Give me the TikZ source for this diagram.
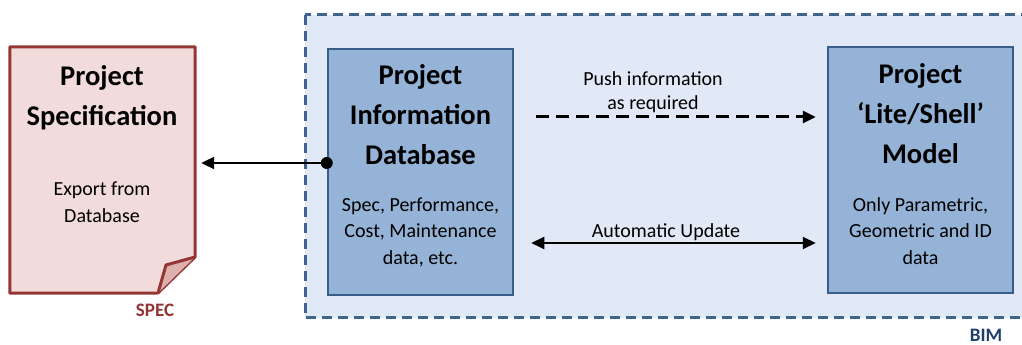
\documentclass[tikz,border=0pt]{standalone}
\usepackage{fontspec}
\setmainfont{Carlito}
\usetikzlibrary{arrows.meta,positioning}

\definecolor{specred}{HTML}{943634}
\definecolor{specfill}{HTML}{F2DCDB}
\definecolor{specfold}{HTML}{DDAFAD}
\definecolor{bimline}{HTML}{41648F}
\definecolor{bimfill}{HTML}{E0E9F5}
\definecolor{bimtext}{HTML}{1F3F6A}
\definecolor{boxfill}{HTML}{95B3D7}
\definecolor{boxline}{HTML}{385D8A}

\begin{document}
\begin{tikzpicture}[
        x=1pt, y=1pt,
        box/.style={draw=boxline, fill=boxfill, line width=2.5pt,
            minimum width=185pt, minimum height=246pt, inner sep=0pt},
        title/.style={font=\fontsize{28.5}{40}\selectfont\bfseries, align=center},
        body/.style={font=\fontsize{20}{26.5}\selectfont, align=center},
        link/.style={line width=2pt, >={Triangle[length=13pt,width=12pt]}, ->}
    ]
    \useasboundingbox (0,0) rectangle (1022,345);
    \clip (0,0) rectangle (1022,345);

    % BIM
    \draw[bimline, fill=bimfill, line width=3pt, dash pattern=on 10pt off 6pt]
        (305,330) rectangle (1045,27);
    \node[font=\fontsize{19}{23}\selectfont\bfseries, text=bimtext] (bim) at (986,10) {BIM};

    % Spezifikation
    \node[minimum width=185pt, minimum height=246pt] (spec) at (102.5,175) {};
    \coordinate (fold1) at (158,52);
    \coordinate (fold2) at (195,88);
    \coordinate (fold3) at (166,80);
    \draw[specred, fill=specfill, line width=3pt, line join=round]
        (spec.north west) -- (spec.north east) -- (fold2) -- (fold1)
        -- (spec.south west) -- cycle;
    \draw[specred, fill=specfold, line width=3pt, line join=round]
        (fold1) -- (fold3) -- (fold2);
    \node[title] (spectitle) at (102,247) {Project\\Specification};
    \node[body] (specbody) at (102,143) {Export from\\Database};
    \node[font=\fontsize{19}{23}\selectfont\bfseries, text=specred] (speclbl) at (155,35) {SPEC};

    % Datenbank
    \node[box] (pid) at (420.5,173) {};
    \node[title] (pidtitle) at (420.5,230) {Project\\Information\\Database};
    \node[body] (pidbody) at (420.5,113) {Spec, Performance,\\Cost, Maintenance\\data, etc.};

    % Modell
    \node[box] (model) at (920.5,175) {};
    \node[title] (modeltitle) at (920.5,231) {Project\\`Lite/Shell'\\Model};
    \node[body] (modelbody) at (920.5,114) {Only Parametric,\\Geometric and ID\\data};

    % Export
    \coordinate (dot) at ([yshift=9pt]pid.west);
    \draw[link, shorten >=6pt] (dot) -- (dot -| spec.east);
    \fill (dot) circle (6pt);

    % Push
    \coordinate (push) at ([yshift=55pt]pid.east);
    \draw[link, dash pattern=on 13pt off 7pt, line width=3pt, shorten <=22pt, shorten >=11pt]
        (push) -- (push -| model.west);
    \node[body, font=\fontsize{20}{24}\selectfont] (pushlbl) at (653,253) {Push information\\as required};

    % Update
    \coordinate (update) at ([yshift=-71pt]pid.east);
    \draw[link, <->, shorten <=17pt, shorten >=11pt]
        (update) -- (update -| model.west);
    \node[body] (updlbl) at (666,113) {Automatic Update};
\end{tikzpicture}
\end{document}
